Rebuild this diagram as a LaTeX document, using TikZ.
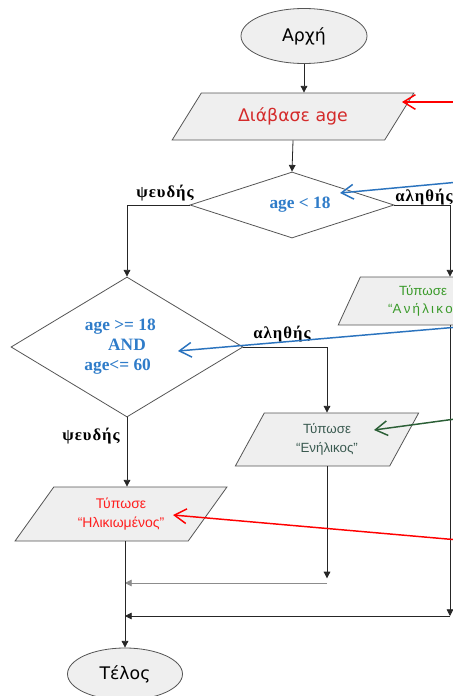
\documentclass[tikz,border=0pt]{standalone}
\usepackage{fontspec}
\setmainfont{Liberation Serif}
\newfontfamily\tahoma{DejaVu Sans}
\newfontfamily\arial{Liberation Sans}
\newfontfamily\spacedserif[LetterSpace=6]{Liberation Serif}
\usetikzlibrary{shapes.geometric,arrows.meta}
\definecolor{shapefill}{HTML}{EFEFEF}
\definecolor{outl}{HTML}{555555}
\definecolor{txtred}{HTML}{D42A2A}
\definecolor{brred}{HTML}{FF1E1E}
\definecolor{txtblue}{HTML}{2F7CC9}
\definecolor{arrblue}{HTML}{2A73BE}
\definecolor{txtgreen}{HTML}{3A9A2A}
\definecolor{darkgreen}{HTML}{2B5F36}
\definecolor{txtteal}{HTML}{3A5A50}
\tikzset{
  terminal/.style={ellipse, draw=outl, fill=shapefill, line width=0.6pt, inner sep=0pt, font=\tahoma\fontsize{13}{15}\selectfont},
  iobox/.style={trapezium, trapezium stretches=true, draw=outl, fill=shapefill, line width=0.6pt, inner sep=0pt, align=center},
  decision/.style={diamond, draw=outl, fill=white, line width=0.6pt, inner sep=0pt, align=center, text=txtblue, font=\bfseries\fontsize{13}{15}\selectfont},
  flow/.style={draw=black!85, line width=0.6pt, -{Triangle[length=5pt,width=5pt]}},
  lbl/.style={font=\spacedserif\bfseries\fontsize{12.5}{14}\selectfont, inner sep=0pt},
  note/.style={line width=1.1pt, -{Straight Barb[length=9pt,width=11pt,line width=1.1pt]}},
}
\begin{document}
\begin{tikzpicture}[x=0.75pt, y=-0.75pt]
\useasboundingbox (0,0) rectangle (453,696);
\fill[white] (0,0) rectangle (453,696);
\clip (0,0) rectangle (453,696);

% nodes
\node[terminal, minimum width=94.5pt, minimum height=41.25pt] (start) at (304,36) {Αρχή};
\node[iobox, trapezium left angle=45, trapezium right angle=135, minimum width=181.5pt, minimum height=35.25pt, text=txtred, font=\tahoma\fontsize{13}{15}\selectfont] (read) at (293,116.5) {Διάβασε age};
\node[decision, aspect=3.09, minimum width=153pt, minimum height=49.5pt] (d1) at (292,205) {\hspace*{12pt}age < 18};
\node[iobox, trapezium left angle=63.4, trapezium right angle=116.6, minimum width=127.5pt, minimum height=36pt, text=txtgreen, font=\arial\fontsize{10}{12}\selectfont] (ani) at (423,301) {Τύπωσε\\[1pt]\hspace*{6pt}“Α\,ν\,ή\,λ\,ι\,κ\,ο\,ς”};
\node[decision, aspect=1.66, minimum width=174pt, minimum height=105pt] (d2) at (127,347) {age >= 18\hspace*{10pt}\\AND\hspace*{10pt}\\age<= 60\hspace*{14pt}};
\node[iobox, trapezium left angle=65.6, trapezium right angle=114.4, minimum width=138pt, minimum height=39.75pt, text=txtteal, font=\arial\fontsize{10}{13}\selectfont] (enh) at (327,439.5) {Τύπωσε\\[1pt]“Ενήλικος”};
\node[iobox, trapezium left angle=52, trapezium right angle=128, minimum width=159pt, minimum height=40.5pt, text=brred, font=\arial\fontsize{10.5}{13}\selectfont] (hli) at (121,514) {Τύπωσε\\[1pt]“Ηλικιωμένος”};
\node[terminal, minimum width=86.25pt, minimum height=39pt] (end) at (125,674) {Τέλος};

% labels
\node[lbl] (lf1) at (165,193) {ψευδής};
\node[lbl] (lt1) at (424,197) {αληθής};
\node[lbl] (lt2) at (282,334) {αληθής};
\node[lbl] (lf2) at (91,436) {ψευδής};

% bus coordinates
\coordinate (rb) at (450,205);
\coordinate (rbot) at (450,616);
\coordinate (mid) at (327,583);

% connectors
\draw[flow] (start.south) -- (start.south |- read.north);
\draw[flow] (read.south) -- (d1.north);
\draw[flow] (d1.west) -| (d2.north);
\draw[flow] (d1.east) -- (rb) -- (rb |- ani.north);
\draw[flow] (rb |- ani.south) -- (rbot);
\draw[flow] (rbot) -- (rbot -| end.north);
\draw[flow] (d2.east) -| (enh.north);
\draw[flow] (d2.south) -- (d2.south |- hli.north);
\draw[flow] (enh.south) -- ([yshift=3.5pt]enh.south |- mid);
\draw[flow, draw=black!45] (mid) -- (mid -| end.north);
\draw[flow] (end.north |- hli.south) -- (end.north);

% annotation arrows
\coordinate (n1s) at (470,102);  \coordinate (n1e) at (402,102);
\coordinate (n2s) at (470,181);  \coordinate (n2e) at (340,193);
\coordinate (n3s) at (470,326);  \coordinate (n3e) at (178,351);
\coordinate (n4s) at (470,417);  \coordinate (n4e) at (374,430);
\coordinate (n5s) at (470,541);  \coordinate (n5e) at (173,515);
\draw[note, red] (n1s) -- (n1e);
\draw[note, arrblue] (n2s) -- (n2e);
\draw[note, arrblue] (n3s) -- (n3e);
\draw[note, darkgreen] (n4s) -- (n4e);
\draw[note, red] (n5s) -- (n5e);
\end{tikzpicture}
\end{document}
